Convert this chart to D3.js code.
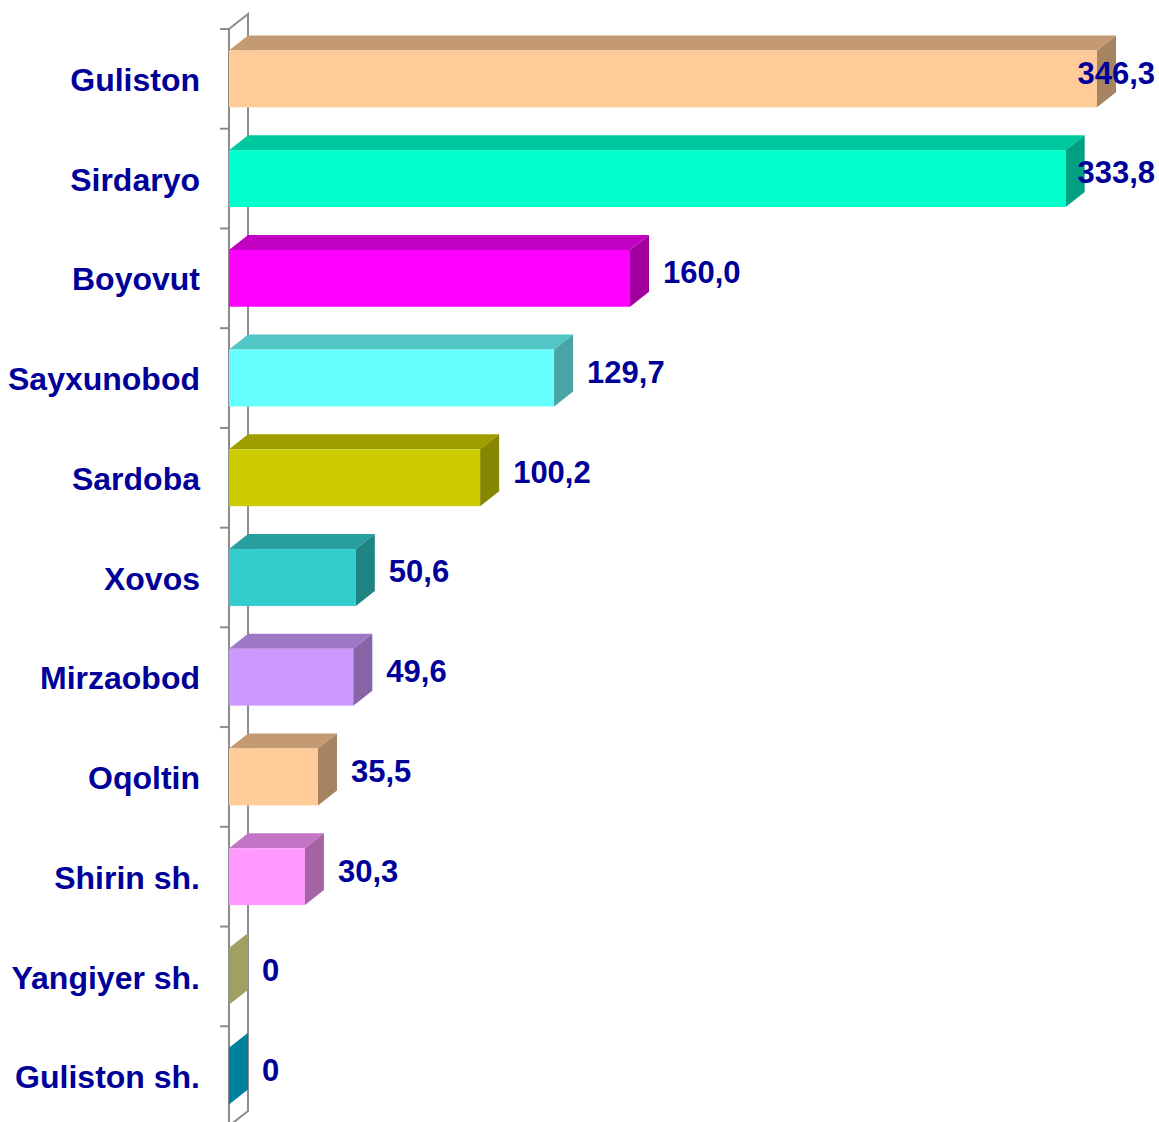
<!DOCTYPE html>
<html>
<head>
<meta charset="utf-8">
<script src="https://cdn.jsdelivr.net/npm/d3@7/dist/d3.min.js"></script>
<style>
  body { margin: 0; background: #fff; }
  svg text { font-family: "Liberation Sans", Arial, sans-serif; font-weight: bold; fill: #000099; }
</style>
</head>
<body>
<div id="chart"></div>
<script>
// chart values
const categories = ["Guliston", "Sirdaryo", "Boyovut", "Sayxunobod", "Sardoba", "Xovos",
  "Mirzaobod", "Oqoltin", "Shirin sh.", "Yangiyer sh.", "Guliston sh."];
const values = [346.3, 333.8, 160.0, 129.7, 100.2, 50.6, 49.6, 35.5, 30.3, 0, 0];
const valueLabels = ["346,3", "333,8", "160,0", "129,7", "100,2", "50,6", "49,6", "35,5", "30,3", "0", "0"];

// bar palette: front, top, side faces
const frontColors = ["#FFCC99", "#00FFCC", "#FF00FF", "#66FFFF", "#CCCC00", "#33CCCC",
  "#CC99FF", "#FFCC99", "#FF99FF", "#FFFF99", "#00C4F0"];
const topColors = ["#C49A72", "#00C89E", "#C200C2", "#52C5C5", "#9E9E00", "#289E9E",
  "#9E77C5", "#C49A72", "#C575C5", "#C4C476", "#0096B8"];
const sideColors = ["#A68462", "#00A183", "#A000A0", "#47A5A5", "#868600", "#218484",
  "#8565A5", "#A68462", "#A563A5", "#A0A060", "#00809F"];

const W = 1159, H = 1122;
const depthX = 19, depthY = 15;

const svg = d3.select("#chart").append("svg")
  .attr("width", W)
  .attr("height", H);

const x = d3.scaleLinear()
  .domain([0, 346.3])
  .range([229, 1097]);

const y = d3.scaleBand()
  .domain(categories)
  .range([29, 1126]);

const barH = y.bandwidth() * 0.57;
const x0 = x(0);

// wall (axis plane)
const wall = svg.append("g")
  .attr("fill", "none")
  .attr("stroke", "#8c8c8c")
  .attr("stroke-width", 2);

wall.append("path")
  .attr("d", `M${x0},${y.range()[1]} L${x0},${y.range()[0]} L${x0 + depthX},${y.range()[0] - depthY} L${x0 + depthX},${y.range()[1] - depthY} L${x0},${y.range()[1]}`);

// ticks at band edges
const edges = categories.map(c => y(c)).concat([y.range()[1]]);
wall.selectAll("line.tick")
  .data(edges)
  .enter()
  .append("line")
  .attr("x1", x0 - 9)
  .attr("x2", x0)
  .attr("y1", d => d)
  .attr("y2", d => d);

// category labels
const axis = svg.append("g")
  .attr("transform", `translate(${x0},0)`)
  .call(d3.axisLeft(y).tickSize(0).tickPadding(29));
axis.select(".domain").remove();
axis.selectAll("text")
  .attr("dy", "0.38em")
  .style("font-size", "32px")
  .style("font-family", "'Liberation Sans', Arial, sans-serif")
  .style("font-weight", "bold")
  .attr("fill", "#000099");

// 3D bars
const bars = svg.selectAll("g.bar")
  .data(categories.map((c, i) => ({ c, v: values[i], i })))
  .enter()
  .append("g")
  .attr("class", "bar");

const frontTop = d => y(d.c) + (y.bandwidth() - barH) / 2;

// top face
bars.append("path")
  .attr("fill", d => topColors[d.i])
  .attr("d", d => {
    const t = frontTop(d), x1 = x(d.v);
    return `M${x0},${t} L${x0 + depthX},${t - depthY} L${x1 + depthX},${t - depthY} L${x1},${t} Z`;
  });

// front face
bars.append("rect")
  .attr("x", x0)
  .attr("y", d => frontTop(d))
  .attr("width", d => x(d.v) - x0)
  .attr("height", barH)
  .attr("fill", d => frontColors[d.i]);

// side face
bars.append("path")
  .attr("fill", d => sideColors[d.i])
  .attr("d", d => {
    const t = frontTop(d), x1 = x(d.v);
    return `M${x1},${t} L${x1 + depthX},${t - depthY} L${x1 + depthX},${t + barH - depthY} L${x1},${t + barH} Z`;
  });

// value labels
bars.append("text")
  .text(d => valueLabels[d.i])
  .attr("y", d => y(d.c) + y.bandwidth() / 2 - 6)
  .attr("dy", "0.35em")
  .style("font-size", "31px")
  .each(function (d) {
    const w = this.getComputedTextLength();
    const left = Math.min(x(d.v) + 33, W - 4 - w);
    d3.select(this).attr("x", left);
  });
</script>
</body>
</html>
